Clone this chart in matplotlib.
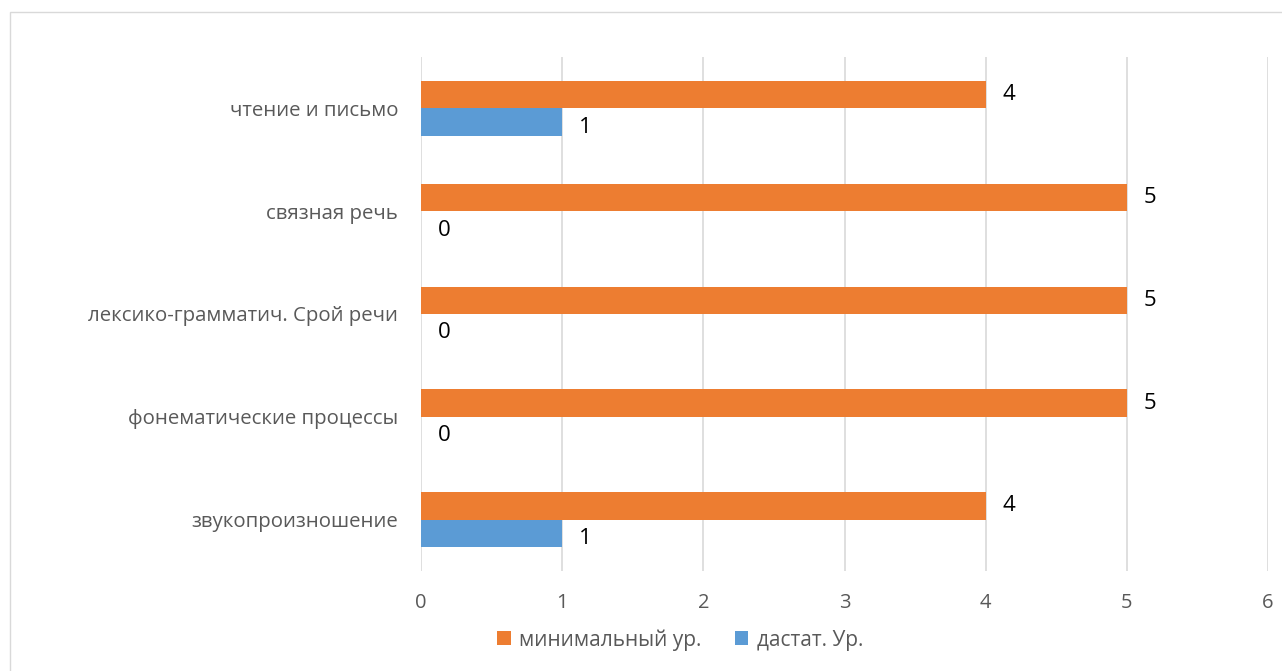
import matplotlib
matplotlib.use("Agg")
import matplotlib.pyplot as plt
from matplotlib.patches import Rectangle, Patch
import numpy as np

categories = ["звукопроизношение", "фонематические процессы",
              "лексико-грамматич. Срой речи", "связная речь", "чтение и письмо"]
minimal = [4, 5, 5, 5, 4]
sufficient = [1, 0, 0, 0, 1]
series_names = ["минимальный ур.", "дастат. Ур."]
x_ticks = [0, 1, 2, 3, 4, 5, 6]

ORANGE = "#ED7D31"
BLUE = "#5B9BD5"
TICK_COLOR = "#595959"
GRID_COLOR = "#D9D9D9"

plt.rcParams['font.family'] = ['Open Sans', 'DejaVu Sans']

W, H = 1282, 671
fig = plt.figure(figsize=(W / 100, H / 100), dpi=100)

# outer chart border
fig.patches.append(Rectangle((10 / W, -0.05), 1.2, 1 - 12 / H + 0.05,
                             transform=fig.transFigure, fill=False,
                             edgecolor="#D9D9D9", linewidth=1.0))

left, right = 421 / W, 1268 / W
top, bottom = 1 - 57 / H, 1 - 571 / H
ax = fig.add_axes([left, bottom, right - left, top - bottom])

y = np.arange(len(categories))
h = 0.267
ax.barh(y + h / 2, minimal, height=h, color=ORANGE, zorder=3)
ax.barh(y - h / 2, sufficient, height=h, color=BLUE, zorder=3)

off = 17 / 141.0
for yi, v in zip(y, minimal):
    ax.text(v + off, yi + h / 2, str(v), va="center", ha="left",
            fontsize=16, color="black")
for yi, v in zip(y, sufficient):
    ax.text(v + off, yi - h / 2 - 0.05, str(v), va="center", ha="left",
            fontsize=16, color="black")

ax.set_xlim(0, 6)
ax.set_ylim(-0.5, len(categories) - 0.5)
ax.set_xticks(x_ticks)
ax.set_xticklabels([str(t) for t in x_ticks])
ax.set_yticks(y)
ax.set_yticklabels(categories)
ax.tick_params(axis="x", length=0, pad=16, labelsize=14.5, labelcolor=TICK_COLOR)
ax.tick_params(axis="y", length=0, pad=16.5, labelsize=14.7, labelcolor=TICK_COLOR)
ax.grid(axis="x", color=GRID_COLOR, linewidth=1.2, zorder=0)
ax.set_axisbelow(True)
for s in ax.spines.values():
    s.set_visible(False)

handles = [Patch(facecolor=ORANGE, edgecolor="none"),
           Patch(facecolor=BLUE, edgecolor="none")]
leg = fig.legend(handles, series_names, loc="center",
                 bbox_to_anchor=(680 / W, 1 - 640 / H), ncol=2, frameon=False,
                 fontsize=15, handlelength=0.65, handleheight=0.65,
                 handletextpad=0.4, columnspacing=1.6)
for t in leg.get_texts():
    t.set_color(TICK_COLOR)

fig.savefig("out.png", dpi=100)
